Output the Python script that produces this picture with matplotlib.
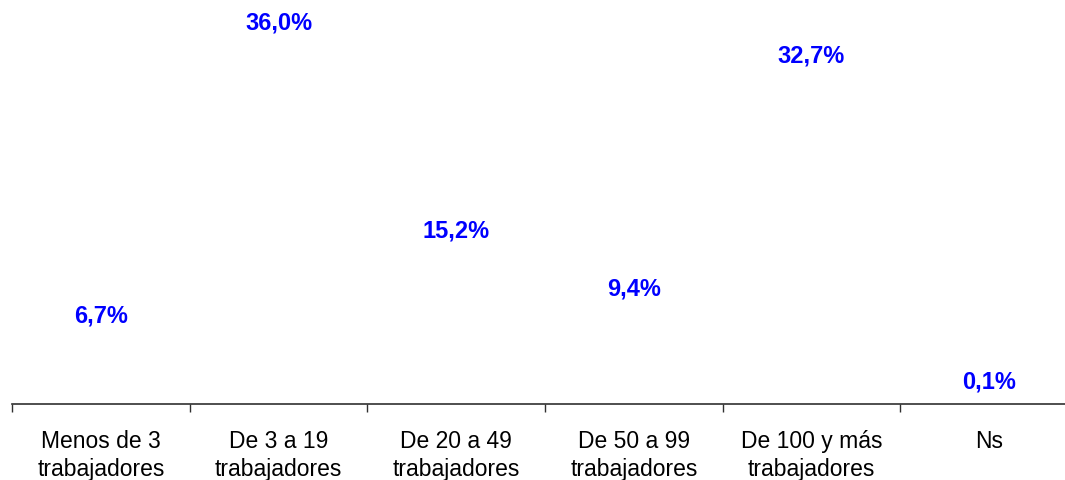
import matplotlib.pyplot as plt

plt.rcParams['font.family'] = ['Liberation Sans', 'DejaVu Sans']

categorias = ['Menos de 3\ntrabajadores', 'De 3 a 19\ntrabajadores', 'De 20 a 49\ntrabajadores',
              'De 50 a 99\ntrabajadores', 'De 100 y más\ntrabajadores', 'Ns']
valores = [6.7, 36.0, 15.2, 9.4, 32.7, 0.1]
etiquetas = ['6,7%', '36,0%', '15,2%', '9,4%', '32,7%', '0,1%']

fig = plt.figure(figsize=(10.65, 4.81), dpi=100)
# el eje llega hasta más allá del borde derecho, como en el original
ax = fig.add_axes([12 / 1065, 76 / 481, 1066 / 1065, 405 / 481])

x = list(range(len(categorias)))
ax.bar(x, valores, width=0.6, color='none')
for xi, v, t in zip(x, valores, etiquetas):
    ax.annotate(t, (xi, v), xytext=(0, 22.5), textcoords='offset pixels',
                ha='center', va='center', color='#0000ff', fontsize=17, fontweight='bold')

ax.set_xlim(-0.5, 5.5)
ax.set_ylim(0, 40.6)
ax.set_xticks([i - 0.5 for i in range(7)])
ax.set_xticklabels([])
ax.set_xticks(x, minor=True)
ax.set_xticklabels(categorias, minor=True, fontsize=16.5, linespacing=1.28)
ax.tick_params(axis='x', which='minor', length=0, pad=18)
ax.tick_params(axis='x', which='major', length=6, width=1, color='#303030', direction='out')
ax.set_yticks([])
for s in ['top', 'right', 'left']:
    ax.spines[s].set_visible(False)
ax.spines['bottom'].set_color('#303030')
ax.spines['bottom'].set_linewidth(1.2)

fig.savefig('out.png', dpi=100)
